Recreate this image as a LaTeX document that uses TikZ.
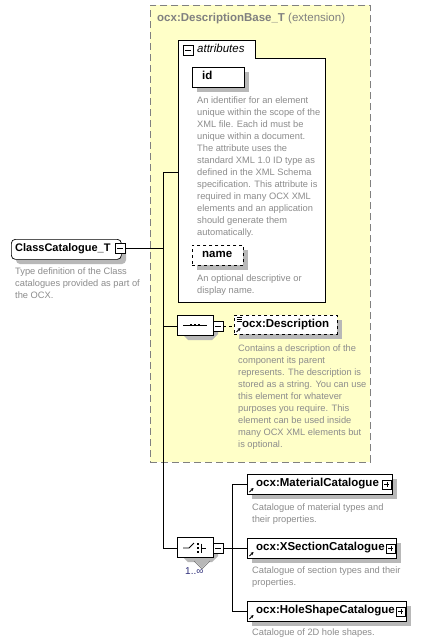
\documentclass[tikz,border=0pt]{standalone}
\usepackage{fontspec}
\setmainfont{Liberation Sans}
\usetikzlibrary{arrows.meta,shapes.misc}
\definecolor{yel}{HTML}{FFFFC8}
\definecolor{shadowgray}{HTML}{B8B8B8}
\definecolor{desc}{HTML}{8C8C8C}
\definecolor{dashc}{HTML}{808080}
\definecolor{multc}{HTML}{2E2E7A}
\begin{document}
\begin{tikzpicture}[x=1pt,y=-1pt,
  lbl/.style={font=\fontsize{11.5}{13}\selectfont\bfseries, inner sep=0, anchor=west, text height=8pt, text depth=2.2pt},
  dtext/.style={font=\fontsize{9.3}{12}\selectfont, text=desc, inner sep=0, anchor=north west, align=left},
  shadowfill/.style={fill=shadowgray, draw=none},
  ebox/.style={draw, fill=white, inner sep=0, minimum height=20pt, line width=0.6pt},
  octshape/.style={chamfered rectangle, chamfered rectangle xsep=6pt, chamfered rectangle ysep=6pt, inner sep=0, minimum width=36pt, minimum height=20pt},
  oct/.style={octshape, draw, fill=white, line width=0.6pt},
  minusbox/.style={draw, fill=white, minimum size=10pt, inner sep=0, line width=0.6pt, path picture={\draw ([xshift=2pt]path picture bounding box.west) -- ([xshift=-2pt]path picture bounding box.east);}},
  plusbox/.style={draw, fill=white, minimum size=9pt, inner sep=0, line width=0.6pt, path picture={\draw ([xshift=2pt]path picture bounding box.west) -- ([xshift=-2pt]path picture bounding box.east); \draw ([yshift=-2pt]path picture bounding box.north) -- ([yshift=2pt]path picture bounding box.south);}},
  refarrow/.style={-{Stealth[length=3pt,width=3pt]}, line width=1pt},
  conn/.style={draw, line width=0.7pt}
]
\useasboundingbox (0,0) rectangle (434,644);
\fill[white] (0,0) rectangle (434,644);

% extension box
\node[draw=dashc, fill=yel, dash pattern=on 7pt off 4pt, line width=0.9pt, minimum width=220pt, minimum height=457pt, inner sep=0, anchor=north west] (ext) at (150,5) {};
\node[anchor=west, inner sep=0, font=\fontsize{11.5}{13}\selectfont, text=dashc, text height=8pt, text depth=2.2pt] (exttitle) at (157,19) {\textbf{ocx:DescriptionBase\_T} (extension)};

% attributes box
\draw[fill=white, line width=0.7pt] (178,40) -- (255,40) -- (255,58) -- (325,58) -- (325,302) -- (178,302) -- cycle;
\coordinate (attr) at (178,172);
\node[minusbox] (attrminus) at (188,50) {};
\node[anchor=west, inner sep=0, font=\fontsize{11.5}{13}\selectfont\itshape, text height=8pt, text depth=2.2pt] (attrlbl) at (197,50) {attributes};

% id
\fill[shadowfill] (197,72) rectangle (249,92);
\node[ebox, minimum width=52pt, anchor=north west] (id) at (192,67) {};
\node[lbl] (idlbl) at (202,77) {id};
\node[dtext] (iddesc) at (197,96.6) {An identifier for an element\\unique within the scope of the\\XML file. Each id must be\\unique within a document.\\The attribute uses the\\standard XML 1.0 ID type as\\defined in the XML Schema\\specification. This attribute is\\required in many OCX XML\\elements and an application\\should generate them\\automatically.};

% name
\fill[shadowfill] (197,250) rectangle (248,270);
\node[ebox, dashed, minimum width=51pt, anchor=north west] (name) at (192,245) {};
\node[lbl] (namelbl) at (202,255) {name};
\node[dtext] (namedesc) at (197,274.6) {An optional descriptive or\\display name.};

% ClassCatalogue_T
\fill[shadowfill, rounded corners=4pt] (16,244) rectangle (126,264);
\node[draw, fill=white, rounded corners=4pt, minimum width=110pt, minimum height=20pt, inner sep=0, anchor=north west, line width=0.7pt] (cls) at (11,239) {};
\node[lbl, font=\fontsize{11}{13}\selectfont\bfseries] (clslbl) at (15,249) {ClassCatalogue\_T};
\node[minusbox] (clsminus) at (120,248) {};
\node[dtext] (clsdesc) at (15,267.6) {Type definition of the Class\\catalogues provided as part of\\the OCX.};

% spine
\coordinate (s1) at (163,172);
\coordinate (s2) at (163,248);
\coordinate (s3) at (163,326);
\coordinate (s4) at (163,548);
\draw[conn] (clsminus.east) -- (s2);
\draw[conn] (attr) -- (s1) -- (s4);

% sequence
\fill[shadowfill] (188,320) -- (212,320) -- (218,326) -- (218,334) -- (212,340) -- (188,340) -- (182,334) -- (182,326) -- cycle;
\node[oct] (seq) at (195,325) {};
\draw[line width=0.8pt] (183,325) -- (207,325);
\foreach \xx in {191,195,199} \fill (\xx-1.3,323.7) rectangle (\xx+1.3,326.3);
\node[minusbox] (seqminus) at (218,326) {};
\draw[conn] (s3) -- (seq.west |- s3);

% description
\fill[shadowfill] (239,320) rectangle (342,339);
\node[ebox, dashed, minimum width=103pt, minimum height=19pt, anchor=north west] (descel) at (234,315) {};
\draw[dashed, line width=0.6pt] (seqminus.east) -- (descel.west |- seqminus.east);
\foreach \yy in {317.5,319.5,321.5} \draw[line width=0.5pt] (236.5,\yy) -- (241.5,\yy);
\draw[refarrow] (236.5,332) -- (240.5,328);
\node[lbl] (desclbl) at (242,325) {ocx:Description};
\node[dtext] (descdesc) at (238,344.6) {Contains a description of the\\component its parent\\represents. The description is\\stored as a string. You can use\\this element for whatever\\purposes you require. This\\element can be used inside\\many OCX XML elements but\\is optional.};

% choice
\fill[shadowfill] (188,542) -- (212,542) -- (218,548) -- (218,556) -- (212,562) -- (188,562) -- (182,556) -- (182,548) -- cycle;
\fill[shadowfill] (194,560) -- (202,568) -- (210,560) -- cycle;
\draw[shadowgray!60!black, line width=0.5pt] (194,561) -- (202,569) -- (210,561);
\node[oct] (cho) at (195,547) {};
\draw[line width=0.8pt] (183,548) -- (189,548) -- (194,543);
\foreach \yy in {544,548,552} \fill (197,\yy-1.2) rectangle (199.4,\yy+1.2);
\draw[line width=0.8pt] (201,543.5) -- (201,552.5);
\draw[line width=0.8pt] (201,548) -- (206,548);
\node[minusbox] (chominus) at (218,548) {};
\draw[conn] (s4) -- (cho.west |- s4);
\node[inner sep=0, anchor=west, font=\fontsize{10}{12}\selectfont, text=multc] (mult) at (185,571) {1..∞};

\coordinate (c1) at (232,484);
\coordinate (c2) at (232,548);
\coordinate (c3) at (232,611);
\draw[conn] (chominus.east) -- (c2);
\draw[conn] (c1) -- (c3);

% MaterialCatalogue
\fill[shadowfill] (252,479) rectangle (397,499);
\node[ebox, minimum width=145pt, anchor=north west] (mat) at (247,474) {};
\draw[conn] (c1) -- (mat.west |- c1);
\draw[refarrow] (249.5,492) -- (253.5,488);
\node[lbl] (matlbl) at (256,484) {ocx:MaterialCatalogue};
\node[plusbox, anchor=east] (matplus) at ([xshift=-1pt]mat.east) {};
\node[dtext] (matdesc) at (252,503.6) {Catalogue of material types and\\their properties.};

% XSectionCatalogue
\fill[shadowfill] (252,543) rectangle (401,563);
\node[ebox, minimum width=149pt, anchor=north west] (xsec) at (247,538) {};
\draw[conn] (c2) -- (xsec.west |- c2);
\draw[refarrow] (249.5,556) -- (253.5,552);
\node[lbl] (xseclbl) at (256,548) {ocx:XSectionCatalogue};
\node[plusbox, anchor=east] (xsecplus) at ([xshift=-1pt]xsec.east) {};
\node[dtext] (xsecdesc) at (252,566.6) {Catalogue of section types and their\\properties.};

% HoleShapeCatalogue
\fill[shadowfill] (252,606) rectangle (411,626);
\node[ebox, minimum width=159pt, anchor=north west] (hole) at (247,601) {};
\draw[conn] (c3) -- (hole.west |- c3);
\draw[refarrow] (249.5,619) -- (253.5,615);
\node[lbl] (holelbl) at (256,611) {ocx:HoleShapeCatalogue};
\node[plusbox, anchor=east] (holeplus) at ([xshift=-1pt]hole.east) {};
\node[dtext] (holedesc) at (252,628.6) {Catalogue of 2D hole shapes.};
\end{tikzpicture}
\end{document}
